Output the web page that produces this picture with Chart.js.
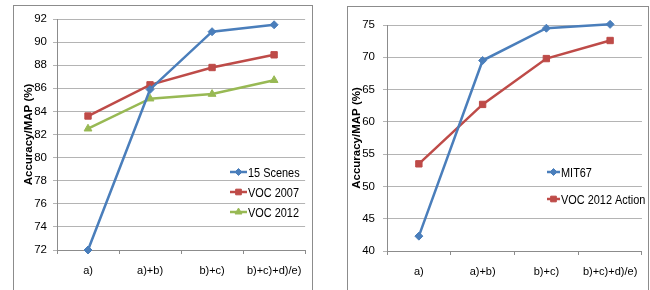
<!DOCTYPE html>
<html lang="en">
<head>
<meta charset="UTF-8" />
<title>Accuracy charts</title>
<script src="https://cdn.jsdelivr.net/npm/chart.js"></script>
<style>
  body { margin: 0; background: #fff; width: 650px; height: 290px; position: relative; overflow: hidden; }
  .panel { position: absolute; border: 1px solid #8c8c8c; border-bottom: none; }
  #p1 { left: 13px; top: 5px; width: 298px; height: 285px; }
  #p2 { left: 347px; top: 6px; width: 300px; height: 284px; }
  canvas { display: block; }
</style>
</head>
<body>
<div class="panel" id="p1"><canvas id="left-chart" width="298" height="285"></canvas></div>
<div class="panel" id="p2"><canvas id="right-chart" width="300" height="284"></canvas></div>

<script>
const categories = ['a)', 'a)+b)', 'b)+c)', 'b)+c)+d)/e)'];

// left panel
const scenes15 = [72.0, 85.9, 90.9, 91.5];
const voc2007 = [83.6, 86.3, 87.8, 88.9];
const voc2012 = [82.5, 85.1, 85.5, 86.7];
const leftTicks = [72, 74, 76, 78, 80, 82, 84, 86, 88, 90, 92];

// right panel
const mit67 = [42.3, 69.5, 74.5, 75.1];
const voc2012Action = [53.5, 62.7, 69.8, 72.6];
const rightTicks = [40, 45, 50, 55, 60, 65, 70, 75];

const BLUE = '#4a7ebb', RED = '#be4b48', GREEN = '#98b954';
const FONT = '"Liberation Sans", Arial, sans-serif';

// legend drawn inside the plot, like the office chart
const inLegend = {
    id: 'inLegend',
    afterDraw(chart, args, opts) {
        const ctx = chart.ctx
        ctx.save()
        chart.data.datasets.forEach((ds, i) => {
            let y = opts.y + i * opts.gap
            ctx.strokeStyle = ds.borderColor
            ctx.lineWidth = 2.5
            ctx.beginPath()
            ctx.moveTo(opts.x, y)
            ctx.lineTo(opts.x + opts.len, y)
            ctx.stroke()
            ctx.fillStyle = ds.borderColor
            ctx.lineWidth = 1
            Chart.helpers.drawPoint(ctx, {
                pointStyle: ds.pointStyle, radius: ds.pointRadius - 0.5, borderWidth: 1
            }, opts.x + opts.len / 2, y)
            ctx.fillStyle = '#000'
            ctx.font = '13px ' + FONT
            ctx.textBaseline = 'middle'
            ctx.textAlign = 'left'
            // squeeze a bit, the original uses a narrow face
            let w = ctx.measureText(ds.label).width * 0.84
            ctx.fillText(ds.label, opts.x + opts.len + 1, y + 1, w)
        })
        ctx.restore()
    }
}

function series(label, data, color, style, r) {
    return {
        label, data,
        borderColor: color, backgroundColor: color,
        borderWidth: 2.5, pointStyle: style, pointRadius: r, pointHoverRadius: r,
        pointBorderWidth: 1, tension: 0, clip: 8
    }
}

function makeChart(id, datasets, ticks, o) {
    return new Chart(document.getElementById(id), {
        type: 'line',
        data: { labels: categories, datasets },
        plugins: [inLegend],
        options: {
            responsive: false,
            animation: false,
            layout: { padding: { left: o.padLeft, right: o.padRight, top: o.padTop, bottom: 0 } },
            plugins: {
                legend: { display: false },
                tooltip: { enabled: false },
                inLegend: o.legend
            },
            scales: {
                x: {
                    offset: true,
                    grid: { offset: true, drawOnChartArea: false, drawTicks: true, tickLength: 4, color: '#8c8c8c' },
                    border: { color: '#8c8c8c', width: 1 },
                    ticks: { color: '#000', padding: 10, font: { family: FONT, size: 11 }, maxRotation: 0 },
                    afterFit(s) { s.height = o.xHeight }
                },
                y: {
                    min: ticks[0], max: ticks[ticks.length - 1],
                    afterBuildTicks(s) { s.ticks = ticks.map(v => ({ value: v })) },
                    grid: { color: '#b4b4b4', tickLength: 4, lineWidth: 1 },
                    border: { color: '#8c8c8c', width: 1 },
                    ticks: { color: '#000', padding: o.tickPad, font: { family: FONT, size: 11.5 } },
                    title: {
                        display: true, text: 'Accuracy/MAP (%)', color: '#000',
                        padding: 0, font: { family: FONT, size: 11.5, weight: 'bold' }
                    },
                    afterFit(s) { s.width = o.yWidth }
                }
            }
        }
    })
}

makeChart('left-chart', [
    series('15 Scenes', scenes15, BLUE, 'rectRot', 4),
    series('VOC 2007', voc2007, RED, 'rect', 4.5),
    series('VOC 2012', voc2012, GREEN, 'triangle', 4.5)
], leftTicks, {
    padLeft: 8, padRight: 1, padTop: 13, yWidth: 35, xHeight: 41, tickPad: 6,
    legend: { x: 216, y: 166, gap: 20, len: 17 }
})

makeChart('right-chart', [
    series('MIT67', mit67, BLUE, 'rectRot', 4),
    series('VOC 2012 Action', voc2012Action, RED, 'rect', 4.5)
], rightTicks, {
    padLeft: 2, padRight: 4, padTop: 18, yWidth: 37, xHeight: 40, tickPad: 8,
    legend: { x: 199, y: 165, gap: 27, len: 13 }
})
</script>
</body>
</html>
